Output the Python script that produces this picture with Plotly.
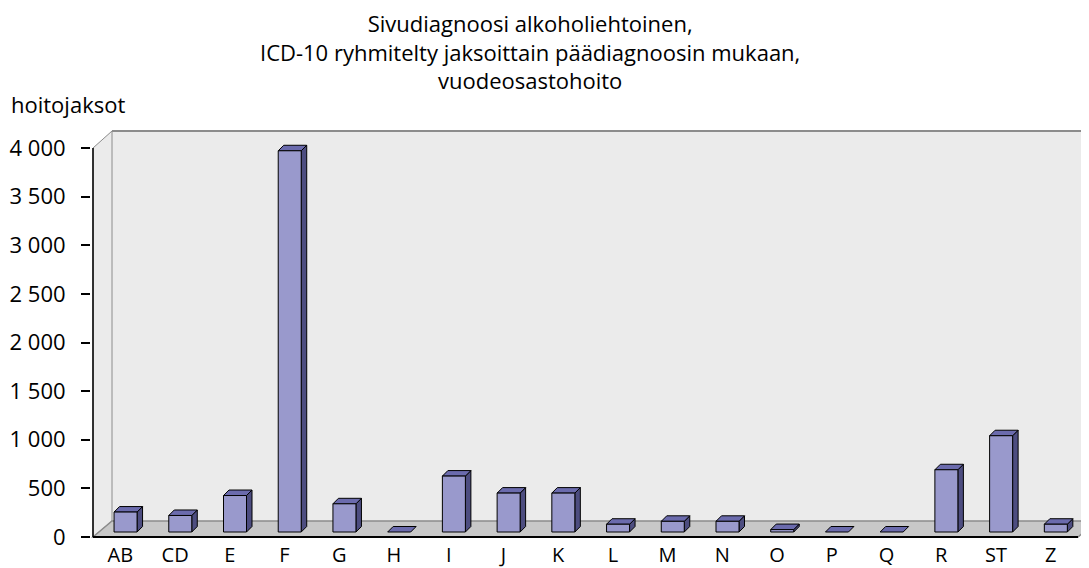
import plotly.graph_objects as go

# ---------------- data ----------------
categories = ["AB", "CD", "E", "F", "G", "H", "I", "J", "K", "L", "M", "N", "O", "P", "Q", "R", "ST", "Z"]
values = [205, 170, 375, 3920, 290, 0, 575, 400, 400, 80, 110, 110, 25, 0, 0, 640, 990, 80]
y_tickvals = [0, 500, 1000, 1500, 2000, 2500, 3000, 3500, 4000]
y_ticktext = ["0", "500", "1 000", "1 500", "2 000", "2 500", "3 000", "3 500", "4 000"]
title_lines = ["Sivudiagnoosi alkoholiehtoinen,",
               "ICD-10 ryhmitelty jaksoittain päädiagnoosin mukaan,",
               "vuodeosastohoito"]
y_title = "hoitojaksot"

# ---------------- geometry (page pixels; page body has an 8px margin) ----------------
PAGE_W, PAGE_H = 1089, 568
OFF = 8
W, H = PAGE_W - OFF, PAGE_H - OFF

axis_x_px = 93 - OFF        # left (front) value axis
zero_y_px = 537 - OFF       # value 0 on the front plane
top_tick_px = 148 - OFF     # value 4000 on the front plane
wall_top_px = 131 - OFF
floor_right_px = 1078 - OFF
L = axis_x_px - 2
T = wall_top_px - 2
B = H - (zero_y_px + 2)
R = 0
plot_w = W - L - R
plot_h = H - T - B

n = len(categories)
ppc = (floor_right_px - axis_x_px) / n              # pixels per category
ppu = (zero_y_px - top_tick_px) / y_tickvals[-1]     # pixels per value unit

x_lo = -0.5 - (axis_x_px - L) / ppc
x_hi = x_lo + plot_w / ppc
y_lo = -((H - B) - zero_y_px) / ppu
y_hi = (zero_y_px - T) / ppu

wall_dx = 19 / ppc
wall_dy = 16 / ppu
wall_top = (zero_y_px - wall_top_px) / ppu
bar_off_dx = 5.2 / ppc
bar_off_dy = 5 / ppu
bar_dx = 5.5 / ppc
bar_dy = 5.5 / ppu
half_w = 11.5 / ppc

# ---------------- bar faces ----------------
fx, fy, sx, sy, tx, ty = [], [], [], [], [], []
for i, v in enumerate(values):
    xl = i + bar_off_dx - half_w
    xr = i + bar_off_dx + half_w
    yb = bar_off_dy
    yt = bar_off_dy + v
    if v > 0:
        fx += [xl, xr, xr, xl, xl, None]
        fy += [yb, yb, yt, yt, yb, None]
        sx += [xr, xr + bar_dx, xr + bar_dx, xr, xr, None]
        sy += [yb, yb + bar_dy, yt + bar_dy, yt, yb, None]
    tx += [xl, xr, xr + bar_dx, xl + bar_dx, xl, None]
    ty += [yt, yt, yt + bar_dy, yt + bar_dy, yt, None]

fig = go.Figure()
line_style = dict(color="#000000", width=1)
fig.add_trace(go.Scatter(x=sx, y=sy, mode="lines", fill="toself", fillcolor="#4D4D80",
                         line=line_style, hoverinfo="skip", showlegend=False))
fig.add_trace(go.Scatter(x=tx, y=ty, mode="lines", fill="toself", fillcolor="#6B6BAD",
                         line=line_style, hoverinfo="skip", showlegend=False))
fig.add_trace(go.Scatter(x=fx, y=fy, mode="lines", fill="toself", fillcolor="#9999CC",
                         line=line_style, hoverinfo="skip", showlegend=False))

# ---------------- walls / floor ----------------
x_left = -0.5
x_right = n - 0.5
gray = "#8C8C8C"
shapes = [
    dict(type="rect", x0=x_left + wall_dx, x1=x_hi + 1, y0=wall_dy, y1=wall_top,
         fillcolor="#EBEBEB", line=dict(width=0), layer="below"),
    dict(type="path",
         path=f"M {x_left},0 L {x_left},{y_tickvals[-1]} L {x_left + wall_dx},{wall_top} "
              f"L {x_left + wall_dx},{wall_dy} Z",
         fillcolor="#EBEBEB", line=dict(color=gray, width=1), layer="below"),
    dict(type="path",
         path=f"M {x_left},0 L {x_right},0 L {x_right + wall_dx},{wall_dy} "
              f"L {x_left + wall_dx},{wall_dy} Z",
         fillcolor="#C8C8C8", line=dict(color=gray, width=1.5), layer="below"),
    dict(type="line", x0=x_left + wall_dx, x1=x_hi + 1, y0=wall_top, y1=wall_top,
         line=dict(color=gray, width=2), layer="below"),
    dict(type="line", x0=x_left, x1=x_right, y0=0, y1=0,
         line=dict(color="#000000", width=2), layer="above"),
    dict(type="line", x0=x_left, x1=x_left, y0=0, y1=y_tickvals[-1],
         line=dict(color="#000000", width=1.5), layer="above"),
]

font_family = "Open Sans, DejaVu Sans, sans-serif"


def py(px_from_top):
    return ((H - B) - px_from_top) / plot_h


def pxx(px_from_left):
    return (px_from_left - L) / plot_w


annotations = [
    dict(text="<br>".join(title_lines), xref="paper", yref="paper",
         x=pxx(530 - OFF), y=py(51 - OFF), xanchor="center", yanchor="middle",
         align="center", showarrow=False,
         font=dict(size=22, family=font_family, color="#000000")),
    dict(text=y_title, xref="paper", yref="paper",
         x=pxx(9 - OFF), y=py(104 - OFF), xanchor="left", yanchor="middle",
         showarrow=False, font=dict(size=22, family=font_family, color="#000000")),
]

fig.update_layout(
    width=W, height=H,
    margin=dict(l=L, r=R, t=T, b=B, pad=0, autoexpand=False),
    paper_bgcolor="white", plot_bgcolor="white",
    shapes=shapes,
    showlegend=False,
    font=dict(family=font_family, color="#000000", size=21),
    annotations=annotations,
)
fig.update_xaxes(range=[x_lo, x_hi], tickmode="array", tickvals=list(range(n)),
                 ticktext=categories, showgrid=False, zeroline=False, showline=False,
                 ticks="", ticklabelstandoff=2, tickfont=dict(size=20), automargin=False)
fig.update_yaxes(range=[y_lo, y_hi], tickmode="array", tickvals=y_tickvals,
                 ticktext=y_ticktext, showgrid=False, zeroline=False, showline=False,
                 ticks="outside", ticklen=9, tickwidth=1.5, tickcolor="#000000",
                 ticklabelstandoff=11, tickfont=dict(size=22), automargin=False)

fig.write_html("out.html")
